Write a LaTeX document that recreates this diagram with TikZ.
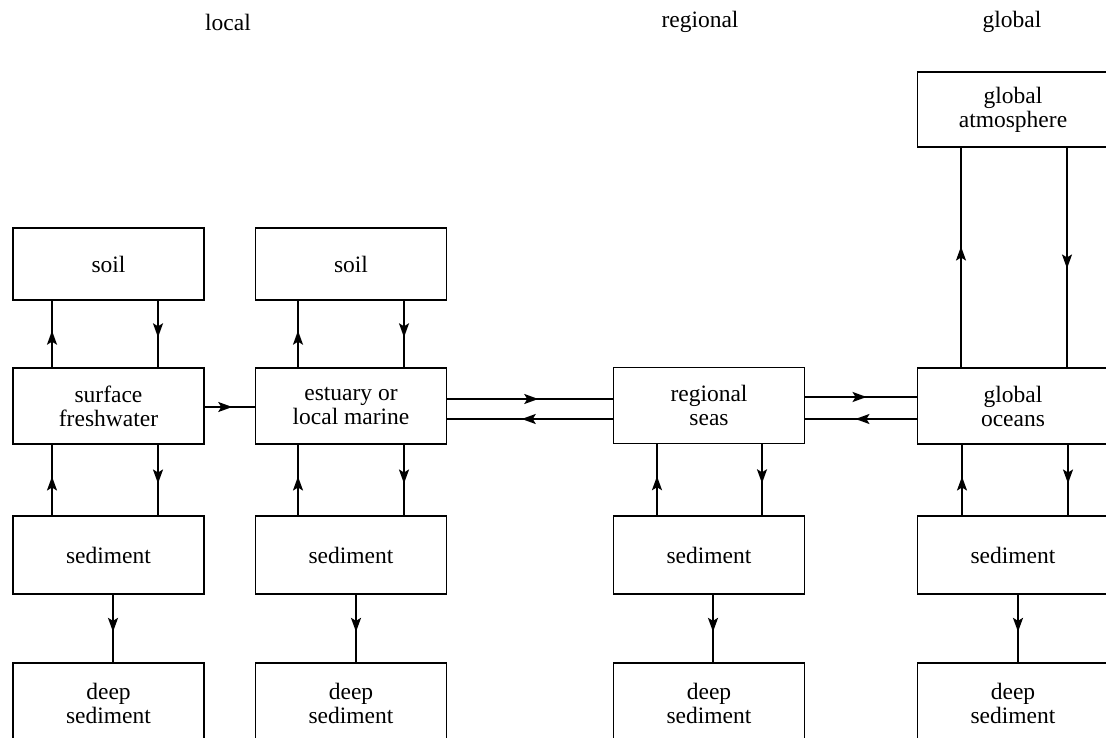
\documentclass[tikz,border=0pt]{standalone}
\usepackage{fontspec}
\setmainfont{Liberation Serif}
\usetikzlibrary{arrows.meta,decorations.markings}
\begin{document}
\begin{tikzpicture}[x=1pt,y=-1pt,
  box/.style={draw,line width=1.8pt,rectangle,minimum width=191pt,inner sep=0pt,align=center,font=\fontsize{23.5}{24}\selectfont},
  hdr/.style={font=\fontsize{23.5}{24}\selectfont,inner sep=0pt},
  flow/.style={line width=1.8pt,postaction={decorate},decoration={markings,mark=at position 0.55 with {\arrow{Stealth[length=14pt,width=10pt,inset=3pt]}}}}]
\useasboundingbox (0,0) rectangle (1106,738);
\clip (0,0) rectangle (1106,738);
% headers
\node[hdr] (hl) at (228,22) {local};
\node[hdr] (hr) at (700,22) {regional};
\node[hdr] (hg) at (1012,22) {global};
% column 1
\node[box,minimum height=72pt] (soilA) at (108.5,264) {soil};
\node[box,minimum height=76pt] (fw) at (108.5,406) {surface\\freshwater};
\node[box,minimum height=78pt] (sedA) at (108.5,555) {sediment};
\node[box,minimum height=80pt] (deepA) at (108.5,703) {deep\\sediment};
% column 2
\node[box,minimum height=72pt] (soilB) at (351,264) {soil};
\node[box,minimum height=76pt] (est) at (351,406) {estuary or\\local marine};
\node[box,minimum height=78pt] (sedB) at (351,555) {sediment};
\node[box,minimum height=80pt] (deepB) at (351,703) {deep\\sediment};
% column 3
\node[box,minimum height=76pt] (rs) at (709,405.5) {regional\\seas};
\node[box,minimum height=78pt] (sedC) at (709,555) {sediment};
\node[box,minimum height=80pt] (deepC) at (709,703) {deep\\sediment};
% column 4
\node[box,minimum height=75pt] (atm) at (1013,109.5) {global\\atmosphere};
\node[box,minimum height=76pt] (go) at (1013,406) {global\\oceans};
\node[box,minimum height=78pt] (sedD) at (1013,555) {sediment};
\node[box,minimum height=80pt] (deepD) at (1013,703) {deep\\sediment};
% vertical flows column 1
\draw[flow] ([xshift=-56.5pt]fw.north) -- ([xshift=-56.5pt]soilA.south);
\draw[flow] ([xshift=49.5pt]soilA.south) -- ([xshift=49.5pt]fw.north);
\draw[flow] ([xshift=-56.5pt]sedA.north) -- ([xshift=-56.5pt]fw.south);
\draw[flow] ([xshift=49.5pt]fw.south) -- ([xshift=49.5pt]sedA.north);
\draw[flow] ([xshift=4.5pt]sedA.south) -- ([xshift=4.5pt]deepA.north);
% column 2
\draw[flow] ([xshift=-53pt]est.north) -- ([xshift=-53pt]soilB.south);
\draw[flow] ([xshift=53pt]soilB.south) -- ([xshift=53pt]est.north);
\draw[flow] ([xshift=-53pt]sedB.north) -- ([xshift=-53pt]est.south);
\draw[flow] ([xshift=53pt]est.south) -- ([xshift=53pt]sedB.north);
\draw[flow] ([xshift=5pt]sedB.south) -- ([xshift=5pt]deepB.north);
% column 3
\draw[flow] ([xshift=-52pt]sedC.north) -- ([xshift=-52pt]rs.south);
\draw[flow] ([xshift=53pt]rs.south) -- ([xshift=53pt]sedC.north);
\draw[flow] ([xshift=4pt]sedC.south) -- ([xshift=4pt]deepC.north);
% column 4
\draw[flow] ([xshift=-52pt]go.north) -- ([xshift=-52pt]atm.south);
\draw[flow] ([xshift=54pt]atm.south) -- ([xshift=54pt]go.north);
\draw[flow] ([xshift=-51pt]sedD.north) -- ([xshift=-51pt]go.south);
\draw[flow] ([xshift=55pt]go.south) -- ([xshift=55pt]sedD.north);
\draw[flow] ([xshift=5pt]sedD.south) -- ([xshift=5pt]deepD.north);
% horizontal flows
\draw[flow] ([yshift=-1pt]fw.east) -- ([yshift=-1pt]fw.east -| est.west);
\draw[flow] ([yshift=7pt]est.east) -- ([yshift=7pt]est.east -| rs.west);
\draw[flow] ([yshift=-13pt]est.east -| rs.west) -- ([yshift=-13pt]est.east);
\draw[flow] ([yshift=8.5pt]rs.east) -- ([yshift=8.5pt]rs.east -| go.west);
\draw[flow] ([yshift=-13.5pt]rs.east -| go.west) -- ([yshift=-13.5pt]rs.east);
\end{tikzpicture}
\end{document}
